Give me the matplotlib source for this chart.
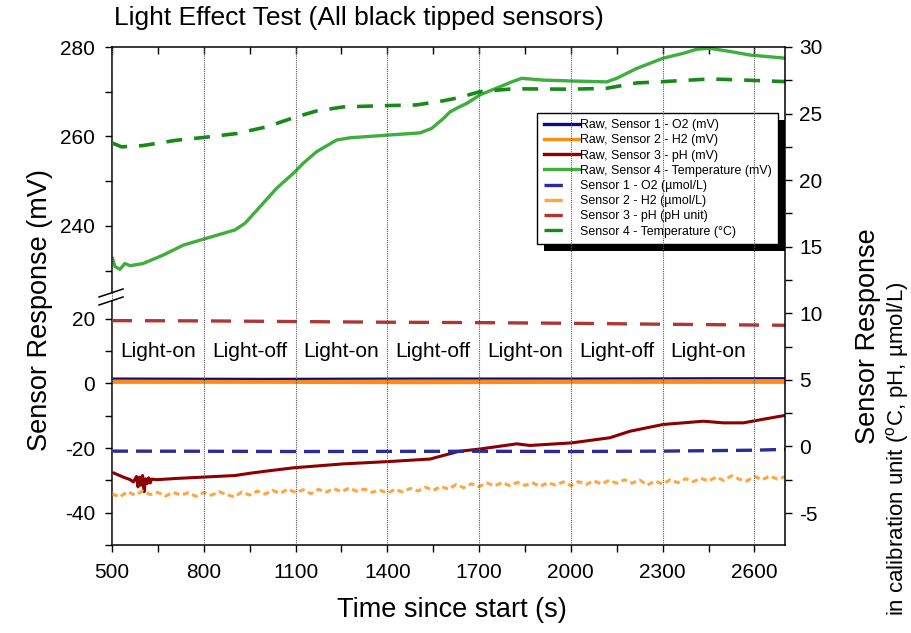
import matplotlib
matplotlib.use('Agg')
import matplotlib.pyplot as plt
import numpy as np
from matplotlib.lines import Line2D
from matplotlib.patches import Rectangle
from matplotlib.ticker import MultipleLocator
from matplotlib.transforms import IdentityTransform

plt.rcParams['font.family'] = ['Liberation Sans', 'DejaVu Sans']
plt.rcParams['mathtext.fontset'] = 'custom'
plt.rcParams['mathtext.rm'] = 'Liberation Sans'
plt.rcParams['axes.unicode_minus'] = False

# ---- data (time in s) ----
# raw sensor 4, temperature (mV)  -> upper left axis
temp_raw_t = [500, 510, 526, 542, 559, 602, 668, 733, 797, 842, 902, 935, 984, 1038, 1095,
              1125, 1169, 1234, 1278, 1401, 1507, 1545, 1583, 1605, 1635, 1660, 1703, 1757,
              1807, 1839, 1910, 2003, 2117, 2150, 2215, 2302, 2368, 2411, 2455, 2520, 2586, 2700]
temp_raw_mv = [233.1, 230.9, 230.3, 231.6, 231.1, 231.6, 233.5, 235.7, 237.0, 237.9, 239.1,
               240.6, 244.3, 248.4, 251.9, 254.0, 256.6, 259.2, 259.7, 260.3, 260.8, 261.8,
               264.0, 265.5, 266.6, 267.4, 269.3, 270.8, 272.2, 273.0, 272.6, 272.4, 272.2,
               273.0, 275.2, 277.5, 278.6, 279.5, 279.7, 279.0, 278.2, 277.5]

# raw sensor 3, pH (mV) -> lower left axis
ph_raw_t = [500, 537, 560, 570, 580, 585, 590, 595, 600, 605, 610, 615, 620, 625, 630, 646,
            711, 797, 902, 951, 1016, 1095, 1256, 1401, 1540, 1583, 1635, 1703, 1823, 1866,
            2003, 2128, 2193, 2302, 2433, 2498, 2564, 2640, 2700]
ph_raw_mv = [-27.5, -29.0, -29.8, -30.5, -28.8, -32.0, -29.0, -31.5, -28.5, -33.5, -29.5,
             -31.0, -29.2, -30.8, -29.6, -29.8, -29.4, -29.0, -28.5, -27.8, -27.0, -26.1,
             -24.9, -24.2, -23.4, -22.3, -21.0, -20.3, -18.7, -19.2, -18.4, -16.8, -14.8,
             -12.7, -11.7, -12.2, -12.2, -10.9, -9.9]

# raw sensors 1 and 2 (mV)
flat_t = [500, 1000, 1500, 2000, 2500, 2700]
o2_raw_mv = [1.5, 1.4, 1.5, 1.5, 1.6, 1.6]
h2_raw_mv = [0.5, 0.5, 0.4, 0.5, 0.5, 0.5]

# calibrated values -> right axis
temp_cal_t = [500, 531, 602, 711, 797, 907, 1005, 1095, 1169, 1256, 1401, 1496, 1583, 1635,
              1703, 1812, 2003, 2117, 2215, 2302, 2455, 2586, 2700]
temp_cal_c = [22.8, 22.5, 22.6, 23.0, 23.2, 23.5, 24.0, 24.7, 25.2, 25.5, 25.6, 25.65, 25.96,
              26.2, 26.65, 26.86, 26.83, 26.9, 27.3, 27.4, 27.6, 27.5, 27.4]

cal_t = [500, 800, 1100, 1400, 1700, 2000, 2300, 2600, 2700]
ph_cal = [9.45, 9.43, 9.38, 9.33, 9.30, 9.25, 9.18, 9.12, 9.10]
o2_cal = [-0.35, -0.36, -0.38, -0.37, -0.36, -0.38, -0.35, -0.28, -0.22]

h2_cal_t = np.arange(500, 2701, 25)
h2_cal = [-3.55, -3.80, -3.40, -3.65, -3.35, -3.62, -3.45, -3.72, -3.45, -3.65, -3.48, -3.75,
          -3.45, -3.66, -3.40, -3.62, -3.78, -3.42, -3.65, -3.35, -3.58, -3.30, -3.52, -3.20,
          -3.46, -3.25, -3.55, -3.22, -3.42, -3.16, -3.40, -3.12, -3.36, -3.20, -3.45, -3.26,
          -3.52, -3.22, -3.42, -3.15, -3.34, -3.06, -3.30, -3.00, -3.20, -2.86, -3.10, -2.80,
          -3.02, -2.74, -2.96, -2.72, -2.94, -2.70, -2.92, -2.74, -3.00, -2.72, -2.90, -2.66,
          -2.95, -2.64, -2.86, -2.58, -2.82, -2.54, -2.76, -2.50, -2.75, -2.52, -2.90, -2.60,
          -2.82, -2.50, -2.72, -2.42, -2.64, -2.40, -2.60, -2.30, -2.55, -2.20, -2.45, -2.60,
          -2.25, -2.50, -2.22, -2.45, -2.28]

phase_labels = ['Light-on', 'Light-off', 'Light-on', 'Light-off', 'Light-on', 'Light-off', 'Light-on']
phase_centers = [650, 950, 1250, 1550, 1850, 2150, 2450]

xticks = np.arange(500, 2701, 300)
xminor = np.arange(650, 2700, 300)

# ---- figure ----
W, H = 912, 633
fig = plt.figure(figsize=(W / 100, H / 100), dpi=100)


def rect(x0, y0, x1, y1):
    # pixel box (top-left origin) -> figure fraction
    return [x0 / W, 1 - y1 / H, (x1 - x0) / W, (y1 - y0) / H]


ax_up = fig.add_axes(rect(112, 47, 785, 293))
ax_lo = fig.add_axes(rect(112, 301, 785, 545))
ax_r = fig.add_axes(rect(112, 47, 785, 545))
ax_r.patch.set_visible(False)

for ax in (ax_up, ax_lo, ax_r):
    ax.set_xlim(500, 2700)

# raw lines
ax_up.plot(temp_raw_t, temp_raw_mv, color='#3fae3f', lw=2.4, solid_capstyle='butt')
ax_lo.plot(flat_t, h2_raw_mv, color='#ff8a14', lw=3.0)
ax_lo.plot(flat_t, o2_raw_mv, color='#0c0c7a', lw=1.6)
ax_lo.plot(ph_raw_t, ph_raw_mv, color='#8b0000', lw=2.2)

# calibrated lines
ax_r.plot(temp_cal_t, temp_cal_c, color='#178a17', lw=2.6, dashes=(4.4, 3.3))
ax_r.plot(cal_t, ph_cal, color='#b03535', lw=2.4, dashes=(6, 3.9))
ax_r.plot(cal_t, o2_cal, color='#2b2b9c', lw=2.4, dashes=(4.8, 2.4))
ax_r.plot(h2_cal_t, h2_cal, color='#ffa640', lw=2.2, dashes=(2, 1.2))

# phase labels
for lab, xc in zip(phase_labels, phase_centers):
    ax_lo.text(xc, 10, lab, ha='center', va='center', fontsize=15)

# left axes (broken)
ax_up.set_ylim(225, 280)
ax_up.set_yticks([240, 260, 280])
ax_up.yaxis.set_minor_locator(MultipleLocator(10))
ax_lo.set_ylim(-50, 25.5)
ax_lo.set_yticks([-40, -20, 0, 20])
ax_lo.yaxis.set_minor_locator(MultipleLocator(10))
for ax in (ax_up, ax_lo):
    for s in ('top', 'right', 'bottom'):
        ax.spines[s].set_visible(False)
    ax.spines['left'].set_linewidth(1.1)
    ax.tick_params(axis='y', which='both', direction='out', length=5, width=1, labelsize=15, pad=7)
ax_lo.tick_params(axis='x', which='both', bottom=False, labelbottom=False)
ax_up.set_xticks(xticks)
ax_up.set_xticks(xminor, minor=True)
ax_up.tick_params(axis='x', which='both', bottom=False, labelbottom=False, top=True,
                  direction='in', length=5, width=1)

# overlay axis: x axis + right axis
ax_r.spines['left'].set_visible(False)
for s in ('top', 'right', 'bottom'):
    ax_r.spines[s].set_linewidth(1.1)
ax_r.set_ylim(-7.4, 30)
ax_r.yaxis.tick_right()
ax_r.set_yticks(np.arange(-5, 31, 5))
ax_r.yaxis.set_minor_locator(MultipleLocator(2.5))
ax_r.tick_params(axis='y', which='both', direction='out', length=5, width=1, labelsize=15, pad=5)
ax_r.set_xticks(xticks)
ax_r.set_xticks(xminor, minor=True)
ax_r.tick_params(axis='x', which='both', direction='out', length=5, width=1, labelsize=15,
                 pad=8, top=False)
ax_r.set_axisbelow(False)
ax_r.grid(axis='x', which='major', color='0.35', lw=0.8, ls=(0, (1, 1)))

# break marks on the left spine
for yb in (293, 301):
    fig.add_artist(Line2D([99 / W, 123 / W], [1 - (yb + 4) / H, 1 - (yb - 4) / H],
                          color='k', lw=1.1))

# legend
handles = [
    Line2D([], [], color='#0c0c7a', lw=2.4),
    Line2D([], [], color='#ff8a14', lw=2.4),
    Line2D([], [], color='#8b0000', lw=2.4),
    Line2D([], [], color='#3fae3f', lw=2.4),
    Line2D([], [], color='#2b2b9c', lw=2.4, dashes=(5.5, 14)),
    Line2D([], [], color='#ffa640', lw=2.4, dashes=(5.5, 14)),
    Line2D([], [], color='#b03535', lw=2.4, dashes=(5.5, 14)),
    Line2D([], [], color='#178a17', lw=2.4, dashes=(5.5, 14)),
]
labels = ['Raw, Sensor 1 - O2 (mV)', 'Raw, Sensor 2 - H2 (mV)', 'Raw, Sensor 3 - pH (mV)',
          'Raw, Sensor 4 - Temperature (mV)', 'Sensor 1 - O2 (\u00b5mol/L)',
          'Sensor 2 - H2 (\u00b5mol/L)', 'Sensor 3 - pH (pH unit)',
          'Sensor 4 - Temperature (\u00b0C)']
leg = ax_r.legend(handles, labels, loc='upper right', bbox_to_anchor=(0.9896, 0.8675),
                  borderaxespad=0, fontsize=8.9, frameon=True, fancybox=False,
                  edgecolor='k', framealpha=1, handlelength=2.9, handletextpad=0.05,
                  labelspacing=0.26, borderpad=0.5)
leg.get_frame().set_linewidth(1.0)
leg.set_zorder(1)

fig.canvas.draw()
bb = leg.get_window_extent()
shadow = Rectangle((bb.x0 + 7, bb.y0 - 7), bb.width, bb.height, transform=IdentityTransform(),
                   facecolor='k', edgecolor='none', zorder=0.9, clip_on=False)
ax_r.add_artist(shadow)

# texts
fig.text(114 / W, 1 - 18 / H, 'Light Effect Test (All black tipped sensors)', fontsize=19,
         ha='left', va='center')
fig.text(452 / W, 1 - 610 / H, 'Time since start (s)', fontsize=19.5, ha='center', va='center')
fig.text(40 / W, 1 - 310 / H, 'Sensor Response (mV)', fontsize=19.5, rotation=90,
         ha='center', va='center')
fig.text(868 / W, 1 - 336 / H, 'Sensor Response', fontsize=19.5, rotation=90,
         ha='center', va='center')
fig.text(898 / W, 1 - 449 / H, 'in calibration unit ($^{\\mathrm{o}}$C, pH, \u00b5mol/L)',
         fontsize=16, rotation=90, ha='center', va='center')

fig.savefig('out.png', dpi=100, facecolor='white')
